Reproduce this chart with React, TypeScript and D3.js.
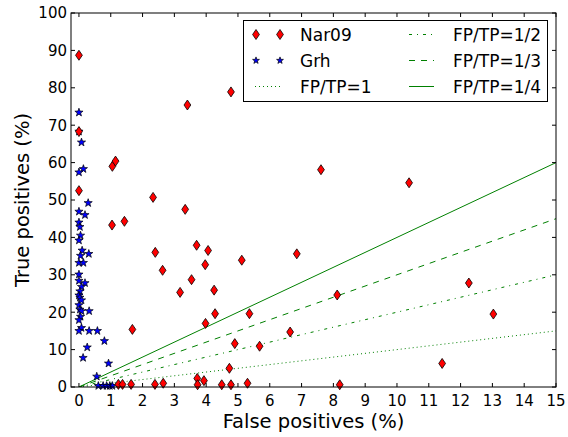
import React, { useEffect, useRef } from "react";
import * as d3 from "d3";

// Nar09 points: [false positives %, true positives %]
const nar09FP = [0, 0, 0, 1.05, 1.15, 2.33, 3.41, 4.78, 3.34, 1.04, 1.43, 3.7, 4.06, 2.4, 3.97, 5.12, 2.63, 3.54, 3.18, 4.25, 4.28, 5.36, 3.98, 1.68, 4.9, 5.68, 4.73, 3.72, 3.93, 1.24, 1.37, 1.64, 2.39, 2.65, 3.73, 4.49, 4.78, 5.3, 8.2, 7.61, 10.38, 6.85, 12.26, 8.12, 13.03, 6.64, 11.42];
const nar09TP = [88.7, 68.3, 52.5, 59, 60.4, 50.7, 75.4, 78.9, 47.5, 43.3, 44.3, 37.9, 36.5, 36, 32.7, 33.9, 31.2, 28.7, 25.3, 25.9, 19.6, 19.6, 17, 15.4, 11.6, 10.9, 5, 2.3, 1.7, 0.7, 0.7, 0.7, 0.7, 1.0, 0.6, 0.6, 0.6, 1.0, 0.6, 58.1, 54.6, 35.6, 27.8, 24.6, 19.5, 14.7, 6.3];

// Grh points
const grhFP = [0, 0, 0.08, 0.14, 0, 0.29, 0, 0.19, 0, 0.03, 0.05, 0, 0.1, 0.31, 0.05, 0, 0.14, 0, 0.19, 0, 0.08, 0.03, 0, 0.03, 0.08, 0, 0.03, 0.08, 0.32, 0.05, 0, 0.08, 0, 0.32, 0.58, 0.8, 0.26, 0.13, 0.93, 0.56, 0.61, 0.76, 0.87, 0.97, 1.05];
const grhTP = [73.4, 68.3, 65.4, 58.3, 57.4, 49.2, 46.9, 46, 44, 42.8, 40.5, 39.2, 36.5, 35.6, 35.1, 33.2, 33.2, 30.1, 27.8, 28.4, 26.8, 25.6, 24.5, 23.9, 23.2, 21.9, 20.7, 20.3, 20.3, 18.8, 17.9, 15.8, 15, 15, 15, 12.3, 10.6, 7.8, 6.3, 2.8, 0.3, 0.3, 0.3, 0.3, 0.3];

// reference lines TP = FP / ratio
const ratioLabels = ["FP/TP=1", "FP/TP=1/2", "FP/TP=1/3", "FP/TP=1/4"];
const ratioSlopes = [1, 2, 3, 4];
const ratioDashes = ["1,3", "3,5,1,5", "6,6", null];

const xTicks = d3.range(0, 16, 1);
const yTicks = d3.range(0, 101, 10);

const W = 568;
const H = 437;
const margin = { top: 13, right: 12, bottom: 50, left: 71 };
const FONT = "DejaVu Sans, sans-serif";
const GREEN = "#008000";

function starPath(r: number) {
  const pts: [number, number][] = [];
  for (let i = 0; i < 10; i++) {
    const rr = i % 2 === 0 ? r : r * 0.4;
    const a = (Math.PI / 5) * i - Math.PI / 2;
    pts.push([rr * Math.cos(a), rr * Math.sin(a)]);
  }
  return "M" + pts.map((p) => p.join(",")).join("L") + "Z";
}

function diamondPath(h: number, w: number) {
  return `M0,${-h}L${w},0L0,${h}L${-w},0Z`;
}

export default function App() {
  const ref = useRef<SVGSVGElement>(null);

  useEffect(() => {
    const svg = d3.select(ref.current);
    svg.selectAll("*").remove();

    const x = d3.scaleLinear().domain([-0.25, 15]).range([margin.left, W - margin.right]);
    const y = d3.scaleLinear().domain([0, 100]).range([H - margin.bottom, margin.top]);
    const x0 = x.range()[0], x1 = x.range()[1];
    const y0 = y.range()[0], y1 = y.range()[1];

    const clip = svg.append("defs").append("clipPath").attr("id", "plotclip");
    clip.append("rect").attr("x", x0).attr("y", y1).attr("width", x1 - x0).attr("height", y0 - y1);

    // ratio lines
    const lines = svg.append("g").attr("clip-path", "url(#plotclip)");
    ratioSlopes.forEach((s, i) => {
      lines.append("line")
        .attr("x1", x(0)).attr("y1", y(0))
        .attr("x2", x(15)).attr("y2", y(15 * s))
        .attr("stroke", GREEN)
        .attr("stroke-width", 1)
        .attr("stroke-dasharray", ratioDashes[i])
    });

    const marks = svg.append("g");
    const diamond = diamondPath(5, 3.4);
    const star = starPath(4.3);

    // Grh stars
    marks.selectAll("path.grh")
      .data(d3.range(grhFP.length))
      .join("path")
      .attr("class", "grh")
      .attr("d", star)
      .attr("transform", (i) => `translate(${x(grhFP[i])},${y(grhTP[i])})`)
      .attr("fill", "#0000ff")
      .attr("stroke", "black")
      .attr("stroke-width", 0.7);

    // Nar09 diamonds
    marks.selectAll("path.nar")
      .data(d3.range(nar09FP.length))
      .join("path")
      .attr("class", "nar")
      .attr("d", diamond)
      .attr("transform", (i) => `translate(${x(nar09FP[i])},${y(nar09TP[i])})`)
      .attr("fill", "red")
      .attr("stroke", "black")
      .attr("stroke-width", 0.8);

    // frame
    svg.append("rect")
      .attr("x", x0).attr("y", y1)
      .attr("width", x1 - x0).attr("height", y0 - y1)
      .attr("fill", "none").attr("stroke", "black").attr("stroke-width", 1);

    // ticks on all four sides, pointing inward
    const tl = 4;
    const tg = svg.append("g").attr("stroke", "black").attr("stroke-width", 1);
    xTicks.forEach((t) => {
      tg.append("line").attr("x1", x(t)).attr("x2", x(t)).attr("y1", y0).attr("y2", y0 - tl);
      tg.append("line").attr("x1", x(t)).attr("x2", x(t)).attr("y1", y1).attr("y2", y1 + tl);
    });
    yTicks.forEach((t) => {
      tg.append("line").attr("x1", x0).attr("x2", x0 + tl).attr("y1", y(t)).attr("y2", y(t));
      tg.append("line").attr("x1", x1).attr("x2", x1 - tl).attr("y1", y(t)).attr("y2", y(t));
    });

    // tick labels
    svg.append("g").selectAll("text")
      .data(xTicks)
      .join("text")
      .attr("x", (d) => x(d))
      .attr("y", y0 + 19)
      .attr("text-anchor", "middle")
      .style("font-family", FONT)
      .style("font-size", "15px")
      .text((d) => d);

    svg.append("g").selectAll("text")
      .data(yTicks)
      .join("text")
      .attr("x", x0 - 4)
      .attr("y", (d) => y(d))
      .attr("dy", "0.36em")
      .attr("text-anchor", "end")
      .style("font-family", FONT)
      .style("font-size", "15px")
      .text((d) => d);

    // axis titles
    svg.append("text")
      .attr("x", (x0 + x1) / 2)
      .attr("y", 428)
      .attr("text-anchor", "middle")
      .style("font-family", FONT)
      .style("font-size", "19.5px")
      .text("False positives (%)");

    svg.append("text")
      .attr("transform", `translate(29,${(y0 + y1) / 2}) rotate(-90)`)
      .attr("text-anchor", "middle")
      .style("font-family", FONT)
      .style("font-size", "19.5px")
      .text("True positives (%)");

    // legend
    const lg = svg.append("g");
    lg.append("rect")
      .attr("x", 243.5).attr("y", 20.5)
      .attr("width", 304).attr("height", 81)
      .attr("fill", "white").attr("stroke", "black").attr("stroke-width", 1);

    const rows = [34.5, 60.5, 86.5];
    const fs = "17px";
    [256, 280].forEach((mx) => {
      lg.append("path").attr("d", diamond).attr("transform", `translate(${mx},${rows[0]})`)
        .attr("fill", "red").attr("stroke", "black").attr("stroke-width", 0.8);
      lg.append("path").attr("d", starPath(3.6)).attr("transform", `translate(${mx},${rows[1]})`)
        .attr("fill", "#0000ff").attr("stroke", "black").attr("stroke-width", 0.7);
    });
    lg.append("line").attr("x1", 255).attr("x2", 281).attr("y1", rows[2]).attr("y2", rows[2])
      .attr("stroke", GREEN).attr("stroke-dasharray", ratioDashes[0]);

    const leftLabels = ["Nar09", "Grh", ratioLabels[0]];
    leftLabels.forEach((t, i) => {
      lg.append("text").attr("x", 300).attr("y", rows[i]).attr("dy", "0.36em")
        .style("font-family", FONT).style("font-size", fs).text(t);
    });
    [1, 2, 3].forEach((k, i) => {
      lg.append("line").attr("x1", 409).attr("x2", 434).attr("y1", rows[i]).attr("y2", rows[i])
        .attr("stroke", GREEN).attr("stroke-dasharray", ratioDashes[k]);
      lg.append("text").attr("x", 453).attr("y", rows[i]).attr("dy", "0.36em")
        .style("font-family", FONT).style("font-size", fs).text(ratioLabels[k]);
    });
  }, []);

  return (
    <svg
      ref={ref}
      width={W}
      height={H}
      style={{ position: "absolute", left: 0, top: 0, background: "white" }}
    />
  );
}
